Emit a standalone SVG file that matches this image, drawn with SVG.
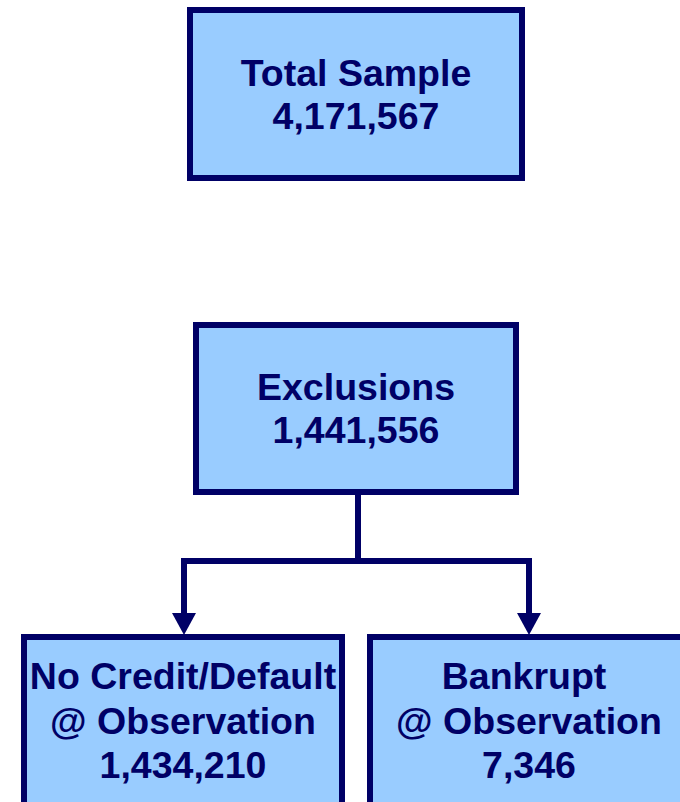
<svg xmlns="http://www.w3.org/2000/svg" width="680" height="802" viewBox="0 0 680 802">
<style>
.box{fill:#99CCFF;stroke:#000066;stroke-width:6}
.t{font-family:"Liberation Sans",Arial,sans-serif;font-weight:bold;font-size:37.5px;fill:#000066;text-anchor:middle}
.c{fill:none;stroke:#000066;stroke-width:6}
.ah{fill:#000066}
</style>
<rect width="680" height="802" fill="#ffffff"/>
<g id="total">
<rect class="box" x="190" y="10" width="332" height="168"/>
<text class="t" x="356" y="86">Total Sample</text>
<text class="t" x="356" y="129">4,171,567</text>
</g>
<g id="exclusions">
<rect class="box" x="196" y="325" width="320" height="167"/>
<text class="t" x="356" y="400">Exclusions</text>
<text class="t" x="356" y="443">1,441,556</text>
</g>
<g id="nocredit">
<rect class="box" x="24" y="637" width="318" height="200"/>
<text class="t" x="183" y="689">No Credit/Default</text>
<text class="t" x="183" y="734">@ Observation</text>
<text class="t" x="183" y="778">1,434,210</text>
</g>
<g id="bankrupt">
<rect class="box" x="370" y="637" width="318" height="200"/>
<text class="t" x="524" y="689">Bankrupt</text>
<text class="t" x="529" y="734">@ Observation</text>
<text class="t" x="529" y="778">7,346</text>
</g>
<g id="connectors">
<path class="c" d="M358,495 V561 M181,561 H532 M184,558 V614 M529,558 V614"/>
<polygon class="ah" points="172,613 196,613 184,635"/>
<polygon class="ah" points="517,613 541,613 529,635"/>
</g>
</svg>
